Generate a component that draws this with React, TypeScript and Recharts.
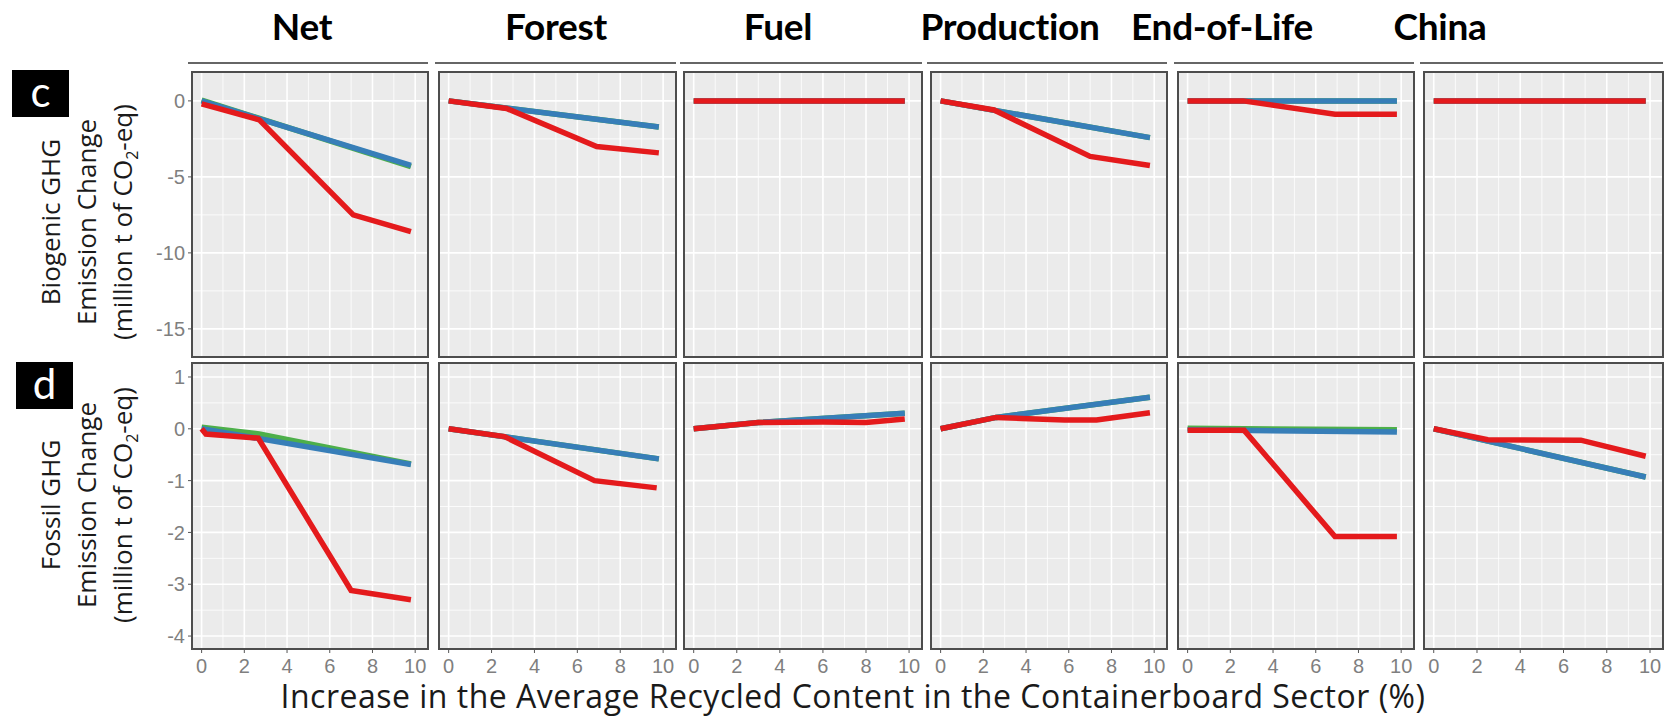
import { LineChart, Line, XAxis, YAxis, CartesianGrid } from "recharts"

type Pts = [number, number][]

const facets = ["Net", "Forest", "Fuel", "Production", "End-of-Life", "China"]

const xTicks = [0, 2, 4, 6, 8, 10]
const xMinor = [1, 3, 5, 7, 9]
const xLimits: [number, number] = [-0.45, 10.6]

const bioTicks = [0, -5, -10, -15]
const bioMinor = [-2.5, -7.5, -12.5]
const bioLimits: [number, number] = [-16.85, 1.9]

const fossilTicks = [1, 0, -1, -2, -3, -4]
const fossilMinor = [0.5, -0.5, -1.5, -2.5, -3.5]
const fossilLimits: [number, number] = [-4.25, 1.27]

// biogenic GHG change, one point list per facet
const bioGreen: Pts[] = [
  [[0, 0.05], [9.8, -4.32]],
  [[0, 0], [9.8, -1.72]],
  [[0, 0], [9.8, 0]],
  [[0, 0], [9.8, -2.42]],
  [[0, 0], [9.8, 0]],
  [[0, 0], [9.8, 0]],
]
const bioBlue: Pts[] = [
  [[0, 0], [9.8, -4.25]],
  [[0, 0], [9.8, -1.72]],
  [[0, 0], [9.8, 0]],
  [[0, 0], [9.8, -2.42]],
  [[0, 0], [9.8, 0]],
  [[0, 0], [9.8, 0]],
]
const bioRed: Pts[] = [
  [[0, -0.2], [2.7, -1.25], [7.1, -7.5], [9.8, -8.6]],
  [[0, 0], [2.7, -0.5], [6.9, -3.0], [9.8, -3.42]],
  [[0, 0], [9.8, 0]],
  [[0, 0], [2.5, -0.6], [7.0, -3.65], [9.8, -4.25]],
  [[0, 0], [2.6, 0], [6.9, -0.88], [9.8, -0.88]],
  [[0, 0], [9.8, 0]],
]

// fossil GHG change, one point list per facet
const fossilGreen: Pts[] = [
  [[0, 0.03], [2.7, -0.1], [9.8, -0.68]],
  [[0, 0], [9.8, -0.58]],
  [[0, 0], [3, 0.12], [9.8, 0.3]],
  [[0, 0], [2.6, 0.22], [9.8, 0.61]],
  [[0, 0.01], [9.8, -0.02]],
  [[0, 0], [9.8, -0.93]],
]
const fossilBlue: Pts[] = [
  [[0, 0], [9.8, -0.69]],
  [[0, 0], [9.8, -0.58]],
  [[0, 0], [3, 0.12], [9.8, 0.3]],
  [[0, 0], [2.6, 0.22], [9.8, 0.61]],
  [[0, -0.02], [9.8, -0.06]],
  [[0, 0], [9.8, -0.93]],
]
const fossilRed: Pts[] = [
  [[0, 0], [0.2, -0.1], [2.65, -0.18], [7.0, -3.12], [9.8, -3.3]],
  [[0, 0], [2.6, -0.15], [6.8, -1.0], [9.7, -1.14]],
  [[0, 0], [3, 0.12], [6, 0.13], [8, 0.12], [9.8, 0.19]],
  [[0, 0], [2.6, 0.22], [3.8, 0.2], [5.8, 0.17], [7.3, 0.17], [9.8, 0.31]],
  [[0, -0.03], [2.65, -0.03], [6.9, -2.08], [9.8, -2.08]],
  [[0, 0], [2.5, -0.21], [6.8, -0.22], [9.8, -0.53]],
]

const colors = ["#4DAF4A", "#377EB8", "#E41A1C"]

const rows = [
  {
    tag: "c",
    label: "Biogenic GHG",
    ticks: bioTicks,
    minor: bioMinor,
    domain: bioLimits,
    series: [bioGreen, bioBlue, bioRed],
  },
  {
    tag: "d",
    label: "Fossil GHG",
    ticks: fossilTicks,
    minor: fossilMinor,
    domain: fossilLimits,
    series: [fossilGreen, fossilBlue, fossilRed],
  },
]

// layout
const panelLeft = [192, 439, 684, 931, 1178, 1424]
const panelWidth = [236, 237, 238, 236, 236, 239]
const titleCenter = [302, 556, 778, 1010, 1222, 1440]
const rowTop = [72, 363]
const rowHeight = [285, 286]
const labelCenterY = [222, 505]
const tagBox = [
  { left: 12, top: 70 },
  { left: 16, top: 362 },
]

const toRows = (p: Pts) => p.map(([x, y]) => ({ x, y }))
const tickFont = { fill: "#7f7f7f", fontSize: 20, fontFamily: "Liberation Sans, Arial, sans-serif" }
const titleFont = "Lato, 'Open Sans', sans-serif"
const textFont = "'Open Sans', Lato, sans-serif"

function Panel({ row, col }: { row: number; col: number }) {
  const cfg = rows[row]
  const first = col === 0
  const bottom = row === 1
  const yw = first ? 60 : 0
  const xh = bottom ? 34 : 0
  const left = panelLeft[col]
  const top = rowTop[row]
  const w = panelWidth[col]
  const h = rowHeight[row]
  return (
    <>
      <div style={{ position: "absolute", left, top, width: w, height: h, background: "#EBEBEB" }} />
      <div style={{ position: "absolute", left: left - yw, top }}>
        <LineChart width={w + yw} height={h + xh} margin={{ top: 0, right: 0, bottom: 0, left: 0 }}>
          <CartesianGrid verticalValues={xMinor} horizontalValues={cfg.minor} stroke="#ffffff" strokeWidth={0.8} />
          <CartesianGrid verticalValues={xTicks} horizontalValues={cfg.ticks} stroke="#ffffff" strokeWidth={1.6} />
          <XAxis
            type="number"
            dataKey="x"
            domain={xLimits}
            ticks={xTicks}
            allowDataOverflow
            hide={!bottom}
            height={xh}
            axisLine={false}
            tickLine={{ stroke: "#555" }}
            tickSize={4}
            tickMargin={6}
            tick={tickFont}
          />
          <YAxis
            type="number"
            domain={cfg.domain}
            ticks={cfg.ticks}
            allowDataOverflow
            hide={!first}
            width={yw}
            axisLine={false}
            tickLine={{ stroke: "#555" }}
            tickSize={4}
            tickMargin={3}
            tick={tickFont}
          />
          {cfg.series.map((s, i) => (
            <Line
              key={i}
              data={toRows(s[col])}
              dataKey="y"
              type="linear"
              stroke={colors[i]}
              strokeWidth={5.5}
              dot={false}
              activeDot={false}
              isAnimationActive={false}
            />
          ))}
        </LineChart>
      </div>
      <div
        style={{
          position: "absolute",
          left: left - 1,
          top: top - 1,
          width: w + 2,
          height: h + 2,
          border: "2px solid #4d4d4d",
          boxSizing: "border-box",
          pointerEvents: "none",
        }}
      />
    </>
  )
}

export default function App() {
  return (
    <div
      style={{
        position: "absolute",
        left: 0,
        top: 0,
        width: 1677,
        height: 720,
        background: "#ffffff",
        fontFamily: textFont,
        overflow: "hidden",
      }}
    >
      {facets.map((f, c) => (
        <div
          key={f}
          style={{
            position: "absolute",
            left: titleCenter[c] - 150,
            width: 300,
            top: 0,
            height: 52,
            lineHeight: "52px",
            textAlign: "center",
            fontFamily: titleFont,
            fontWeight: 700,
            fontSize: 37,
            letterSpacing: -0.3,
            color: "#000",
          }}
        >
          {f}
        </div>
      ))}

      {/* thin rule above each facet of the top row */}
      {facets.map((f, c) => (
        <div
          key={f}
          style={{
            position: "absolute",
            left: panelLeft[c] - 4,
            top: 62,
            width: panelWidth[c] + 4,
            height: 2,
            background: "#666",
          }}
        />
      ))}

      {rows.map((r, ri) => (
        <div key={r.tag}>
          {facets.map((f, c) => (
            <Panel key={f} row={ri} col={c} />
          ))}
          <div
            style={{
              position: "absolute",
              left: tagBox[ri].left,
              top: tagBox[ri].top,
              width: 57,
              height: 47,
              background: "#000",
              color: "#fff",
              fontFamily: titleFont,
              fontSize: 42,
              lineHeight: "42px",
              textAlign: "center",
            }}
          >
            {r.tag}
          </div>
          <div
            style={{
              position: "absolute",
              left: 86 - 170,
              top: labelCenterY[ri] - 57,
              width: 340,
              height: 114,
              transform: "rotate(-90deg)",
              textAlign: "center",
              fontSize: 26,
              lineHeight: "36px",
              color: "#1a1a1a",
              paddingTop: 3,
              boxSizing: "border-box",
            }}
          >
            <div>{r.label}</div>
            <div>Emission Change</div>
            <div>
              (million t of CO<span style={{ fontSize: 16, verticalAlign: -6, lineHeight: 0 }}>2</span>-eq)
            </div>
          </div>
        </div>
      ))}

      <div
        style={{
          position: "absolute",
          left: 853 - 750,
          width: 1500,
          top: 676,
          height: 40,
          lineHeight: "40px",
          textAlign: "center",
          fontSize: 32,
          letterSpacing: 0.5,
          color: "#1a1a1a",
        }}
      >
        Increase in the Average Recycled Content in the Containerboard Sector (%)
      </div>
    </div>
  )
}
